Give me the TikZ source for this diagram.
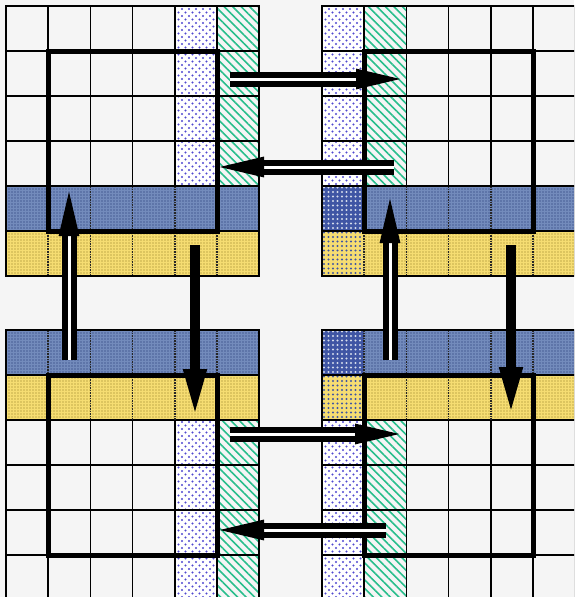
\documentclass[tikz,border=0pt]{standalone}
\usetikzlibrary{patterns.meta,arrows.meta}
\definecolor{paper}{HTML}{F5F5F5}
\definecolor{dotBlue}{HTML}{5048D0}
\definecolor{hatchGreen}{HTML}{28BE8C}
\definecolor{bandBlue}{HTML}{738BBC}
\definecolor{bandBlueInk}{HTML}{1C2C6C}
\definecolor{bandYellow}{HTML}{F6DD72}
\definecolor{bandYellowInk}{HTML}{8C7620}
\definecolor{darkBlue}{HTML}{3F55A4}
\tikzset{
  gridline/.style={draw=black, line width=1.6pt},
  bandline/.style={draw=black!85, line width=1.6pt, densely dotted},
  frameline/.style={draw=black, line width=5pt},
  dotcell/.style={preaction={fill=white}, pattern={Dots[distance=7pt, radius=1.1pt]}, pattern color=dotBlue,
    postaction={pattern={Dots[distance=7pt, radius=1.1pt, xshift=3.5pt, yshift=3.5pt]}, pattern color=dotBlue}},
  hatchcell/.style={preaction={fill=paper}, pattern={Lines[angle=-45, distance=6pt, line width=1.6pt]}, pattern color=hatchGreen},
  blueband/.style={preaction={fill=bandBlue}, pattern={Dots[distance=3pt, radius=0.6pt]}, pattern color=bandBlueInk},
  yellowband/.style={preaction={fill=bandYellow}, pattern={Dots[distance=3pt, radius=0.55pt]}, pattern color=bandYellowInk},
  bluedark/.style={preaction={fill=darkBlue}, pattern={Dots[distance=4.5pt, radius=1.1pt]}, pattern color=white!70!bandBlue},
  yellowdark/.style={preaction={fill=bandYellow}, pattern={Dots[distance=4.5pt, radius=1.1pt]}, pattern color=darkBlue},
  hollowarrow/.style={draw=black, line width=6pt, double=white, double distance=3pt, -{Triangle[length=46pt, width=19pt]}},
  solidarrow/.style={draw=black, line width=10pt, -{Triangle[length=48pt, width=21pt]}},
}
\def\cw{42.2}
\def\ch{45}
\newcommand{\cellblock}[8]{% x0 y0 bandrow whiterow dotcol hatchcol blue/yellow under dots
  \begin{scope}[shift={(#1,#2)}]
    \fill[paper] (0,0) rectangle (6*\cw,6*\ch);
    \path[dotcell] (#5*\cw,#4*\ch) rectangle ++(\cw,4*\ch);
    \path[hatchcell] (#6*\cw,#4*\ch) rectangle ++(\cw,4*\ch);
    \path[blueband] (0,#3*\ch) rectangle ++(6*\cw,\ch);
    \path[yellowband] (0,#3*\ch+\ch) rectangle ++(6*\cw,\ch);
    \path[#7] (#5*\cw,#3*\ch) rectangle ++(\cw,\ch);
    \path[#8] (#5*\cw,#3*\ch+\ch) rectangle ++(\cw,\ch);
    \foreach \i in {1,...,5} {
      \draw[gridline] (\i*\cw,#4*\ch) -- ++(0,4*\ch);
      \draw[bandline] (\i*\cw,#3*\ch) -- ++(0,2*\ch);
      \draw[gridline] (0,\i*\ch) -- ++(6*\cw,0);
    }
    \draw[gridline] (0,0) rectangle (6*\cw,6*\ch);
    \draw[frameline] (\cw,\ch) rectangle (5*\cw,5*\ch);
  \end{scope}
}

\begin{document}
\begin{tikzpicture}[x=1pt, y=-1pt]
  \path[use as bounding box, fill=paper] (0,0) rectangle (574,597);
  \clip (0,0) rectangle (574,597);

  % ---- four blocks ----
  \cellblock{6}{6}{4}{0}{4}{5}{blueband}{yellowband}
  \cellblock{322}{6}{4}{0}{0}{1}{bluedark}{yellowdark}
  \cellblock{6}{330}{0}{2}{4}{5}{blueband}{yellowband}
  \cellblock{322}{330}{0}{2}{0}{1}{bluedark}{yellowdark}

  % ---- horizontal arrows ----
  \coordinate (hA1) at (230,79);  \coordinate (hB1) at (402,79);
  \coordinate (hA2) at (394,167); \coordinate (hB2) at (218,167);
  \coordinate (hA3) at (230,434); \coordinate (hB3) at (401,434);
  \coordinate (hA4) at (386,530); \coordinate (hB4) at (218,530);
  \draw[hollowarrow] (hA1) -- (hB1);
  \draw[hollowarrow] (hA2) -- (hB2);
  \draw[hollowarrow] (hA3) -- (hB3);
  \draw[hollowarrow] (hA4) -- (hB4);

  % ---- vertical arrows ----
  \coordinate (vA1) at (69,360);  \coordinate (vB1) at (69,190);
  \coordinate (vA2) at (195,245); \coordinate (vB2) at (195,417);
  \coordinate (vA3) at (390,360); \coordinate (vB3) at (390,197);
  \coordinate (vA4) at (511,245); \coordinate (vB4) at (511,415);
  \draw[hollowarrow] (vA1) -- (vB1);
  \draw[solidarrow] (vA2) -- (vB2);
  \draw[hollowarrow] (vA3) -- (vB3);
  \draw[solidarrow] (vA4) -- (vB4);
\end{tikzpicture}
\end{document}
